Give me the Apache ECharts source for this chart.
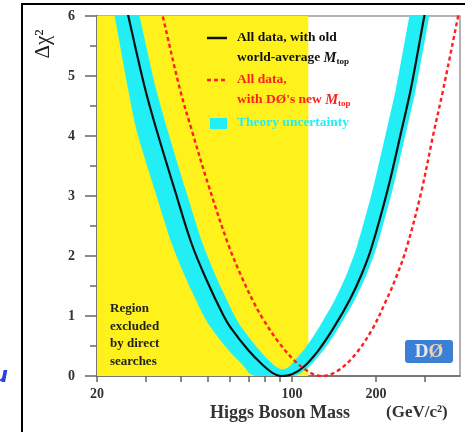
<!DOCTYPE html>
<html><head><meta charset="utf-8">
<script src="https://cdn.jsdelivr.net/npm/echarts@6/dist/echarts.min.js"></script>
<style>html,body{margin:0;padding:0;background:#fff;overflow:hidden}#c{width:465px;height:432px}</style>
</head><body><div id="c"></div>
<script>
// ---- data ----
const xTickValues = [20, 30, 40, 50, 60, 70, 80, 90, 100, 200, 300];
const xLabelValues = [20, 100, 200];
const yTickLabels = [0, 1, 2, 3, 4, 5, 6];
const excludedRange = [20, 114.4];

// black: all data, old world-average Mtop
const massBlack = [24, 25.9, 29.7, 32.7, 38, 43.7, 49.4, 56.6, 60, 70, 78.7, 86, 92, 100, 110, 124, 140, 161.4, 177.8, 193, 220, 247, 267, 298, 320];
const chiBlack  = [6.7, 6.0, 4.8, 4.1, 3.1, 2.2, 1.6, 1.02, 0.82, 0.42, 0.18, 0.04, 0, 0.03, 0.15, 0.42, 0.78, 1.28, 1.7, 2.15, 3.1, 4.1, 4.8, 6.0, 6.75];

// red dashed: all data, D0 new Mtop
const massRed = [31, 34.4, 39.7, 43.7, 50, 59, 66, 72.5, 78.7, 90, 104, 118, 128, 145, 168, 195, 218, 234, 256, 290, 320, 348, 394, 410];
const chiRed  = [6.9, 6.0, 4.77, 4.1, 3.2, 2.2, 1.65, 1.25, 0.95, 0.55, 0.22, 0.04, 0, 0.08, 0.35, 0.8, 1.27, 1.6, 2.1, 3.05, 4.0, 4.77, 6.0, 6.4];

// theory-uncertainty band: outer edge and inner edge (left top -> bottom -> right top)
const bandOuterMass = [19.4, 23.1, 25.8, 27.7, 32.2, 37.1, 41.9, 48.0, 50.9, 59.4, 66.7, 70.5, 74.0, 102, 114.6, 129.2, 145.9, 168.2, 185.3, 201.1, 229.2, 257.4, 278.2, 310.5, 356];
const bandOuterChi  = [7.5, 6.0, 4.8, 4.1, 3.1, 2.2, 1.6, 1.02, 0.82, 0.42, 0.18, 0.04, 0, 0, 0.15, 0.42, 0.78, 1.28, 1.7, 2.15, 3.1, 4.1, 4.8, 6.0, 7.5];
const bandInnerMass = [23.9, 28.4, 32.5, 35.8, 41.6, 47.9, 54.1, 62, 65.7, 76.7, 86.2, 92.5, 97.2, 109.6, 123.8, 142.7, 157.2, 170.6, 194.5, 218.3, 236, 263.4, 302];
const bandInnerChi  = [7.5, 6.0, 4.8, 4.1, 3.1, 2.2, 1.6, 1.02, 0.82, 0.42, 0.18, 0.11, 0.15, 0.42, 0.78, 1.28, 1.7, 2.15, 3.1, 4.1, 4.8, 6.0, 7.5];

// ---- build ----
const zip = (a, b) => a.map((v, i) => [v, b[i]]);
const bandPolygon = zip(bandOuterMass, bandOuterChi).concat(zip(bandInnerMass, bandInnerChi).reverse());
const serif = '"Liberation Serif", "DejaVu Serif", serif';
const YELLOW = '#fff21c', CYAN = '#22eff5', RED = '#ff1f1f';

const chart = echarts.init(document.getElementById('c'));
const boldText = (sz) => 'bold ' + sz + 'px ' + serif;

const option = {
  animation: false,
  grid: {left: 97, right: 5, top: 16, bottom: 56, show: true, borderColor: '#999', borderWidth: 1.5, backgroundColor: '#fff'},
  xAxis: {
    type: 'log', logBase: 10, min: 20, max: 400,
    axisLine: {show: true, lineStyle: {color: '#666', width: 1.5}},
    axisTick: {show: true, length: 6, lineStyle: {color: '#666', width: 1.5}, customValues: xTickValues},
    axisLabel: {customValues: xLabelValues, margin: 11, fontFamily: serif, fontWeight: 'bold', fontSize: 14, color: '#333'},
    splitLine: {show: false}, minorTick: {show: false}
  },
  yAxis: {
    type: 'value', min: 0, max: 6, interval: 1,
    axisLine: {show: true, lineStyle: {color: '#666', width: 1.5}},
    axisTick: {show: true, length: 12, lineStyle: {color: '#666', width: 1.5}},
    minorTick: {show: true, splitNumber: 2, length: 7, lineStyle: {color: '#666', width: 1.5}},
    axisLabel: {margin: 22, fontFamily: serif, fontWeight: 'bold', fontSize: 14, color: '#333',
      formatter: v => yTickLabels.includes(v) ? String(v) : ''},
    splitLine: {show: false}
  },
  series: [
    {
      type: 'line', data: [], z: 1, silent: true,
      markArea: {silent: true, itemStyle: {color: YELLOW, opacity: 1},
        data: [[{xAxis: excludedRange[0]}, {xAxis: excludedRange[1]}]]}
    },
    {
      type: 'custom', z: 2, silent: true, clip: true,
      data: bandPolygon,
      encode: {x: 0, y: 1},
      renderItem: function (params, api) {
        if (params.dataIndex !== 0) return null;
        const pts = [];
        for (let i = 0; i < bandPolygon.length; i++) {
          pts.push(api.coord([api.value(0, i), api.value(1, i)]));
        }
        return {type: 'polygon', shape: {points: pts, smooth: 0.25}, style: {fill: CYAN, stroke: null}};
      }
    },
    {
      type: 'line', z: 3, data: zip(massBlack, chiBlack), smooth: 0.35, symbol: 'none',
      lineStyle: {color: '#111', width: 2.2}
    },
    {
      type: 'line', z: 4, data: zip(massRed, chiRed), smooth: 0.35, symbol: 'none',
      lineStyle: {color: RED, width: 2.4, type: [4, 3]}
    }
  ],
  graphic: [
    {type: 'rect', shape: {x: 22, y: 4, width: 480, height: 460}, style: {fill: 'none', stroke: '#000', lineWidth: 2}, z: 50},
    {type: 'text', x: 43, y: 44, rotation: Math.PI / 2, style: {text: 'Δχ²', font: '21px ' + serif, fill: '#222', align: 'center', verticalAlign: 'middle'}, z: 50},
    // legend
    {type: 'line', shape: {x1: 207, y1: 38, x2: 227, y2: 38}, style: {stroke: '#111', lineWidth: 2.5}, z: 50},
    {type: 'text', x: 237, y: 38, style: {text: 'All data, with old', font: boldText(13.5), fill: '#111', verticalAlign: 'middle'}, z: 50},
    {type: 'text', x: 237, y: 58, style: {text: '{n|world-average }{m|M}{s|top}', fill: '#111', verticalAlign: 'middle',
      rich: {n: {font: boldText(13.5), fill: '#111'}, m: {font: 'italic bold 14.5px ' + serif, fill: '#111'}, s: {font: boldText(9), fill: '#111', padding: [7, 0, 0, 0]}}}, z: 50},
    {type: 'line', shape: {x1: 207, y1: 80, x2: 227, y2: 80}, style: {stroke: RED, lineWidth: 2.4, lineDash: [4, 3]}, z: 50},
    {type: 'text', x: 237, y: 80, style: {text: 'All data,', font: boldText(13.5), fill: RED, verticalAlign: 'middle'}, z: 50},
    {type: 'text', x: 237, y: 100, style: {text: '{n|with DØ\'s new }{m|M}{s|top}', fill: RED, verticalAlign: 'middle',
      rich: {n: {font: boldText(13.5), fill: RED}, m: {font: 'italic bold 14.5px ' + serif, fill: RED}, s: {font: boldText(9), fill: RED, padding: [7, 0, 0, 0]}}}, z: 50},
    {type: 'rect', shape: {x: 210, y: 118, width: 17, height: 11}, style: {fill: CYAN}, z: 50},
    {type: 'text', x: 237, y: 123, style: {text: 'Theory uncertainty', font: boldText(13.5), fill: CYAN, verticalAlign: 'middle'}, z: 50},
    // excluded region label
    {type: 'text', x: 110, y: 300, style: {text: 'Region\nexcluded\nby direct\nsearches', font: boldText(13), fill: '#222', lineHeight: 17.5, verticalAlign: 'top'}, z: 50},
    // x axis title
    {type: 'text', x: 210, y: 413, style: {text: 'Higgs Boson Mass', font: boldText(18), fill: '#333', verticalAlign: 'middle'}, z: 50},
    {type: 'text', x: 386, y: 413, style: {text: '(GeV/c²)', font: boldText(17), fill: '#333', verticalAlign: 'middle'}, z: 50},
    // DØ logo
    {type: 'rect', shape: {x: 405, y: 340, width: 48, height: 23, r: 3}, style: {fill: '#3b7fd6'}, z: 50},
    {type: 'text', x: 429, y: 352, style: {text: '{d|D}{o|Ø}', align: 'center', verticalAlign: 'middle',
      rich: {d: {font: 'bold 19px ' + serif, fill: '#e6e9f2'}, o: {font: 'bold 19px ' + serif, fill: '#f2d2b0'}}}, z: 51},
    // cut-off slide text fragment at far left
    {type: 'text', x: -7, y: 377, style: {text: 'u', font: 'italic bold 21px "DejaVu Sans", sans-serif', fill: '#2f3fd8', verticalAlign: 'middle',
      shadowColor: 'rgba(0,0,0,0.35)', shadowOffsetX: 2, shadowOffsetY: 2, shadowBlur: 1}, z: 50}
  ]
};
chart.setOption(option);
</script></body></html>
